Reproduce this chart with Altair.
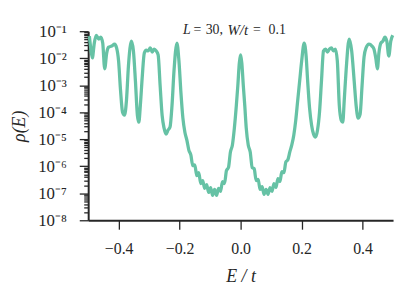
import json
import numpy as np
import pandas as pd
import altair as alt

# Energy E/t
energy = [
    -0.4961, -0.4912, -0.4864, -0.4799, -0.4734, -0.4653, -0.4588, -0.4523, -0.4458, -0.4393,
    -0.4328, -0.4231, -0.4133, -0.4068, -0.4003, -0.3938, -0.3873, -0.3808, -0.3744, -0.3679,
    -0.3581, -0.3516, -0.3451, -0.3386, -0.3338, -0.3289, -0.3224, -0.3159, -0.3094, -0.3029,
    -0.2964, -0.2899, -0.2834, -0.2769, -0.2705, -0.2640, -0.2575, -0.2510, -0.2445, -0.2380,
    -0.2315, -0.2250, -0.2185, -0.2088, -0.2023, -0.1958, -0.1893, -0.1828, -0.1763, -0.1698,
    -0.1633, -0.1568, -0.1503, -0.1438, -0.1373, -0.1308, -0.1244, -0.1179, -0.1114, -0.1049,
    -0.0984, -0.0919, -0.0854, -0.0789, -0.0724, -0.0659, -0.0594, -0.0529, -0.0464, -0.0399,
    -0.0334, -0.0269, -0.0205, -0.0140, -0.0091, -0.0042, 0.0000, 0.0039, 0.0088, 0.0136,
    0.0185, 0.0250, 0.0315, 0.0380, 0.0445, 0.0510, 0.0575, 0.0640, 0.0705, 0.0769,
    0.0834, 0.0899, 0.0964, 0.1029, 0.1094, 0.1159, 0.1224, 0.1289, 0.1354, 0.1419,
    0.1484, 0.1549, 0.1614, 0.1679, 0.1744, 0.1808, 0.1873, 0.1938, 0.2003, 0.2084,
    0.2149, 0.2198, 0.2263, 0.2328, 0.2393, 0.2458, 0.2523, 0.2588, 0.2653, 0.2718,
    0.2782, 0.2847, 0.2912, 0.2977, 0.3042, 0.3107, 0.3172, 0.3237, 0.3302, 0.3351,
    0.3399, 0.3464, 0.3562, 0.3643, 0.3724, 0.3789, 0.3854, 0.3919, 0.3984, 0.4049,
    0.4114, 0.4211, 0.4308, 0.4373, 0.4438, 0.4487, 0.4536, 0.4601, 0.4666, 0.4731,
    0.4795, 0.4860, 0.4925, 0.4990,
]

# log10 of the density of states rho(E)
log_rho = [
    -1.18, -1.66, -1.99, -1.44, -1.15, -1.29, -1.22, -1.44, -2.39, -1.81,
    -1.59, -1.55, -1.48, -1.62, -2.10, -3.20, -4.00, -4.11, -3.56, -2.28,
    -1.37, -1.73, -2.83, -4.11, -4.37, -3.75, -2.65, -1.81, -1.70, -1.73,
    -1.62, -1.77, -1.66, -1.73, -1.88, -3.01, -4.11, -4.59, -4.81, -4.66,
    -4.55, -3.75, -2.47, -1.44, -2.10, -3.27, -4.22, -4.74, -5.03, -5.40,
    -5.58, -5.98, -5.95, -6.35, -6.24, -6.64, -6.53, -6.82, -6.68, -6.97,
    -6.79, -7.08, -6.86, -7.08, -6.82, -6.93, -6.57, -6.64, -6.16, -6.05,
    -5.47, -5.21, -4.59, -3.75, -3.01, -2.17, -1.88, -2.17, -3.01, -3.75,
    -4.59, -5.21, -5.47, -6.05, -6.09, -6.53, -6.49, -6.86, -6.75, -7.04,
    -6.86, -7.04, -6.79, -6.93, -6.64, -6.79, -6.46, -6.57, -6.20, -6.24,
    -5.84, -5.76, -5.47, -5.21, -4.85, -4.30, -3.56, -2.83, -2.10, -1.44,
    -1.92, -2.83, -3.86, -4.48, -4.81, -4.92, -4.66, -4.00, -2.83, -1.73,
    -1.66, -1.77, -1.66, -1.62, -1.73, -1.66, -2.10, -3.75, -4.30, -4.37,
    -3.56, -2.39, -1.29, -1.73, -2.83, -3.75, -4.22, -4.08, -3.01, -1.95,
    -1.62, -1.48, -1.55, -1.66, -2.03, -2.39, -1.81, -1.44, -1.37, -1.22,
    -1.37, -1.92, -1.37, -1.15,
]

x_ticks = [-0.4, -0.2, 0.0, 0.2, 0.4]
decades = [-8, -7, -6, -5, -4, -3, -2, -1]
decade_labels = ["10⁻⁸", "10⁻⁷", "10⁻⁶", "10⁻⁵", "10⁻⁴", "10⁻³", "10⁻²", "10⁻¹"]
minor_mult = [1, 2, 3, 4, 5, 6, 7, 8, 9]

y_ticks = [m * 10.0 ** d for d in decades[:-1] for m in minor_mult] + [10.0 ** decades[-1]]

df = pd.DataFrame({"E": energy, "rho": np.power(10.0, log_rho)})

FONT = "Liberation Serif"
INK = "#262626"
COLOR = "#66c2a5"

lg = "log(datum.value)/LN10"
is_major = f"abs({lg} - round({lg})) < 0.01"
label_expr = (
    f"{is_major} ? {json.dumps(decade_labels, ensure_ascii=False)}[round({lg}) - ({decades[0]})] : ''"
)

line = alt.Chart(df).mark_line(
    color=COLOR, strokeWidth=3.3, interpolate="monotone"
).encode(
    x=alt.X(
        "E:Q",
        scale=alt.Scale(domain=[-0.5, 0.5], nice=False, zero=False),
        axis=alt.Axis(
            values=x_ticks, format=".1f", grid=False,
            tickSize=9, tickWidth=1.3, tickColor=INK,
            domainWidth=2, domainColor=INK,
            labelFont=FONT, labelFontSize=16, labelColor=INK, labelPadding=12,
            labelFlush=False, labelOverlap=False,
            title="E / t", titleFont=FONT, titleFontSize=18, titleFontStyle="italic",
            titleFontWeight="normal", titleColor=INK, titleY=57, titleBaseline="middle",
        ),
    ),
    y=alt.Y(
        "rho:Q",
        scale=alt.Scale(type="log", domain=[1e-8, 1e-1], nice=False),
        axis=alt.Axis(
            values=y_ticks, labelExpr=label_expr, grid=False,
            tickSize={"condition": {"test": is_major, "value": 9}, "value": 4.5},
            tickWidth=1.3, tickColor=INK,
            domainWidth=2, domainColor=INK,
            labelFont=FONT, labelFontSize=17, labelColor=INK, labelPadding=13,
            labelOverlap=False, labelFlush=False,
            title="ρ(E)", titleFont=FONT, titleFontSize=18, titleFontStyle="italic",
            titleFontWeight="normal", titleColor=INK, titleAngle=270,
            titleX=-69, titleY=95.5, titleBaseline="middle", titleAlign="center",
        ),
    ),
)

one = alt.Data(values=[{"k": 0}])


def piece(txt, x, italic, size=14):
    return alt.Chart(one).mark_text(
        text=txt, font=FONT, fontSize=size, color=INK, align="left", baseline="middle",
        fontStyle="italic" if italic else "normal",
    ).encode(x=alt.value(x), y=alt.value(-1))


title_parts = [
    piece("L", 95.7, True),
    piece("=", 106.5, False),
    piece("30,", 118.7, False),
    piece("W/t", 140.7, True, 15),
    piece("=", 166.5, False),
    piece("0.1", 182.2, False),
]

chart = alt.layer(line, *title_parts).properties(
    width=308, height=191,
    autosize=alt.AutoSizeParams(type="none"),
    padding={"left": 81, "top": 22, "right": 5, "bottom": 70},
).configure_view(stroke=None)

chart.save("out.html", embed_options={"renderer": "svg", "actions": False})
